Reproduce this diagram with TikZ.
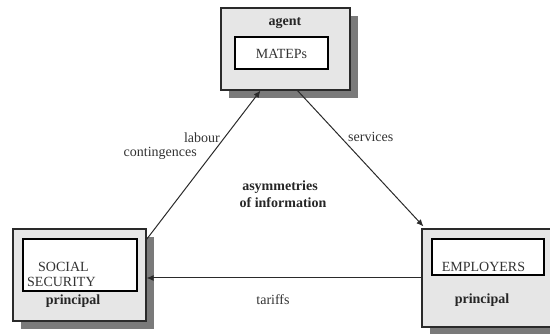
\documentclass[tikz,border=0pt]{standalone}
\usepackage{fontspec}
\setmainfont{Liberation Serif}
\usetikzlibrary{shadows,arrows.meta}
\definecolor{boxfill}{HTML}{E6E6E6}
\definecolor{shadowc}{HTML}{7A7A7A}
\definecolor{edge}{HTML}{2A2A2A}
\definecolor{txt}{HTML}{333333}
\tikzset{
  outerbox/.style={draw=edge, line width=1.1pt, fill=boxfill, inner sep=0pt,
    drop shadow={shadow xshift=8pt, shadow yshift=-8pt, fill=shadowc, opacity=1}},
  innerbox/.style={draw=black, line width=1.5pt, fill=white, inner sep=0pt},
  lbl/.style={font=\fontsize{14}{15}\selectfont, text=txt, inner sep=0pt},
  blbl/.style={font=\fontsize{14}{15}\selectfont\bfseries, text=black!85, inner sep=0pt},
  arr/.style={draw=edge, line width=1pt, -{Latex[length=7pt,width=6pt]}}
}
\begin{document}
\begin{tikzpicture}[x=1pt,y=-1pt]
\useasboundingbox (0,0) rectangle (550,334);
\clip (0,0) rectangle (550,334);
% agent
\node[outerbox, minimum width=129pt, minimum height=82pt] (agent) at (285.5,49) {};
\node[innerbox, minimum width=93pt, minimum height=32pt] (agin) at (281.5,53) {};
\node[blbl] (agentlbl) at (285,23) {agent};
\node[lbl] (mateps) at (281.5,54) {MATEPs};
% social security
\node[outerbox, minimum width=133pt, minimum height=92pt] (soc) at (79.5,275) {};
\node[innerbox, minimum width=114pt, minimum height=52pt] (socin) at (80,265) {};
\node[lbl, anchor=west] (social) at (38,267) {SOCIAL};
\node[lbl, anchor=west] (security) at (27,282) {SECURITY};
\node[blbl] (princ1) at (73,301) {principal};
% employers
\node[outerbox, minimum width=134pt, minimum height=98pt] (emp) at (489,278) {};
\node[innerbox, minimum width=112pt, minimum height=36pt] (empin) at (488,257) {};
\node[lbl] (employers) at (483.5,267) {EMPLOYERS};
\node[blbl] (princ2) at (482,300) {principal};
% arrows
\draw[arr] ([yshift=-11pt]soc.north east) -- ([xshift=-25pt]agent.south);
\draw[arr] ([xshift=12pt]agent.south) -- ([xshift=2pt,yshift=2pt]emp.north west);
\draw[arr] (emp.west) -- (emp.west -| soc.east);
% labels
\node[lbl, anchor=east] (labour) at (220,138) {labour};
\node[lbl, anchor=east] (conting) at (197,153) {contingences};
\node[lbl, anchor=west] (services) at (348,137) {services};
\node[blbl] (asym1) at (280,187) {asymmetries};
\node[blbl] (asym2) at (283,203) {of information};
\node[lbl] (tariffs) at (273,300) {tariffs};
\end{tikzpicture}
\end{document}
